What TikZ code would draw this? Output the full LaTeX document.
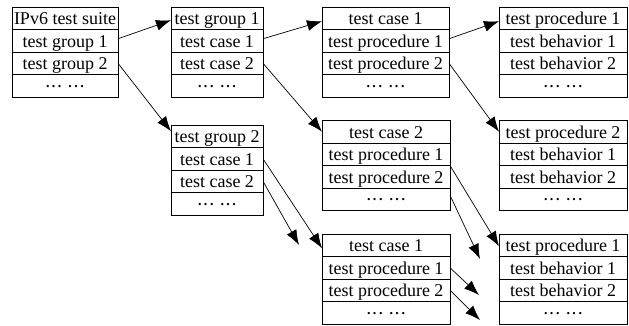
\documentclass[tikz,border=0pt]{standalone}
\usepackage{fontspec}
\setmainfont{Liberation Serif}
\usetikzlibrary{arrows.meta,calc}
\tikzset{
  cell/.style={draw=black,line width=0.8pt,anchor=north west,inner sep=0pt,outer sep=0pt,
    minimum height=22.5pt,text height=13pt,text depth=0pt,font=\fontsize{18}{20}\selectfont},
  dotcell/.style={cell,text height=2.5pt,text depth=0pt,font=\fontsize{14}{16}\selectfont\bfseries},
  arr/.style={line width=0.7pt,-{Latex[length=15pt,width=11pt]}}
}
\newcommand{\mydots}{.\kern2.5pt.\kern2.5pt.\hspace{7pt}.\kern2.5pt.\kern2.5pt.}
\newcommand{\tbox}[7]{%
  \node[cell,minimum width=#4pt] (#1-1) at (#2,#3) {#5};
  \node[cell,minimum width=#4pt] (#1-2) at (#1-1.south west) {#6};
  \node[cell,minimum width=#4pt] (#1-3) at (#1-2.south west) {#7};
  \node[dotcell,minimum width=#4pt] (#1-4) at (#1-3.south west) {\mydots};
}
\begin{document}
\begin{tikzpicture}[x=1pt,y=-1pt]
\useasboundingbox (0,0) rectangle (629,325);
\tbox{b1}{12}{7}{106}{IPv6 test suite}{test group 1}{test group 2}
\tbox{b2}{171}{7}{92}{test group 1}{test case 1}{test case 2}
\tbox{b3}{171}{125}{92}{test group 2}{test case 1}{test case 2}
\tbox{b4}{322}{7}{127}{test case 1}{test procedure 1}{test procedure 2}
\tbox{b5}{322}{120.5}{128}{test case 2}{test procedure 1}{test procedure 2}
\tbox{b6}{322}{234}{128}{test case 1}{test procedure 1}{test procedure 2}
\tbox{b7}{499}{7}{128}{test procedure 1}{test behavior 1}{test behavior 2}
\tbox{b8}{499}{120.5}{128}{test procedure 2}{test behavior 1}{test behavior 2}
\tbox{b9}{499}{234}{128}{test procedure 1}{test behavior 1}{test behavior 2}
\coordinate (f1) at (299,245);
\coordinate (f2) at (480,259);
\coordinate (f3) at (479,295);
\coordinate (f4) at (480,320);
\draw[arr] ($(b1-2.east)+(0,-2)$) -- ($(b2-1.west)+(0,2)$);
\draw[arr] (b1-3.east) -- ($(b3-1.west)+(0,-5)$);
\draw[arr] ($(b2-2.east)+(0,-2)$) -- ($(b4-1.west)+(0,3)$);
\draw[arr] (b2-3.east) -- (b5-1.west);
\draw[arr] ($(b4-2.east)+(0,-2)$) -- ($(b7-1.west)+(0,3)$);
\draw[arr] (b4-3.east) -- (b8-1.west);
\draw[arr] (b3-2.east) -- ($(b6-1.west)+(0,3)$);
\draw[arr] (b3-3.east) -- (f1);
\draw[arr] (b5-2.south east) -- ($(b9-1.west)+(0,1)$);
\draw[arr] ($(b5-4.east)+(0,-4)$) -- (f2);
\draw[arr] (b6-2.east) -- (f3);
\draw[arr] (b6-3.east) -- (f4);
\end{tikzpicture}
\end{document}
